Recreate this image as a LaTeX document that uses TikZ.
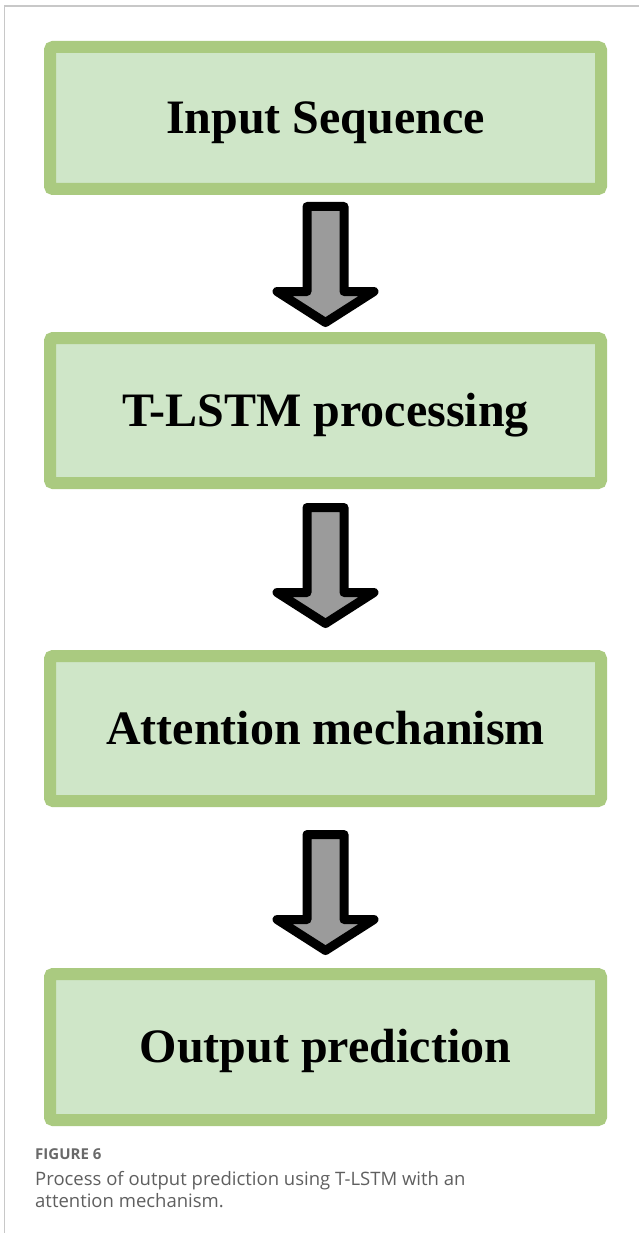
\documentclass[tikz,border=0pt]{standalone}
\usepackage{fontspec}
\setmainfont{Liberation Serif}
\newfontfamily\capfont{Open Sans}
\usetikzlibrary{calc}
\definecolor{boxfill}{RGB}{207,230,200}
\definecolor{boxedge}{RGB}{170,202,128}
\definecolor{arrowgray}{RGB}{155,155,155}
\definecolor{framegray}{RGB}{200,200,200}
\definecolor{capgray}{RGB}{95,95,95}
\definecolor{figgray}{RGB}{105,105,105}
\begin{document}
\begin{tikzpicture}[x=1pt,y=-1pt,
  stagebox/.style={draw=boxedge, fill=boxfill, line width=12pt, rounded corners=3pt,
    minimum width=551pt, minimum height=145pt, inner sep=0pt,
    font=\fontsize{48}{56}\selectfont\bfseries, text height=31.8pt, text depth=0pt},
  blockarrow/.style={draw=black, fill=arrowgray, line width=9pt, line join=round},
  captext/.style={anchor=base west, inner sep=0pt, text=capgray,
    font=\capfont\fontsize{18.5}{22}\selectfont}
  ]
\useasboundingbox (0,0) rectangle (639,1233);
\draw[framegray, line width=1.5pt] (4.5,1233) -- (4.5,6) -- (639,6);

\node[stagebox, minimum height=142pt] (b1) at (325.5,118) {Input Sequence};
\node[stagebox] (b2) at (325.5,410.5) {T-LSTM processing};
\node[stagebox] (b3) at (325.5,728.5) {Attention mechanism};
\node[stagebox, minimum height=146pt] (b4) at (325.5,1047) {Output prediction};

\coordinate (a1) at ($(b1.south)+(0,7)$);
\coordinate (a2) at ($(b2.south)+(0,14)$);
\coordinate (a3) at ($(b3.south)+(0,23)$);

\foreach \a in {a1,a2,a3}{
  \draw[blockarrow] ($(\a)+(-18.5,4.5)$) -- ++(37,0) -- ++(0,85) -- ++(30,0)
    -- ($(\a)+(0,120.5)$) -- ($(\a)+(-48.5,89.5)$) -- ++(30,0) -- cycle;
}

\node[anchor=base west, inner sep=0pt, text=figgray,
  font=\capfont\bfseries\fontsize{15}{18}\selectfont] (fig) at (35,1159) {FIGURE 6};
\node[captext] (cap1) at (35,1185) {Process of output prediction using T-LSTM with an};
\node[captext] (cap2) at (35,1207) {attention mechanism.};
\end{tikzpicture}
\end{document}
